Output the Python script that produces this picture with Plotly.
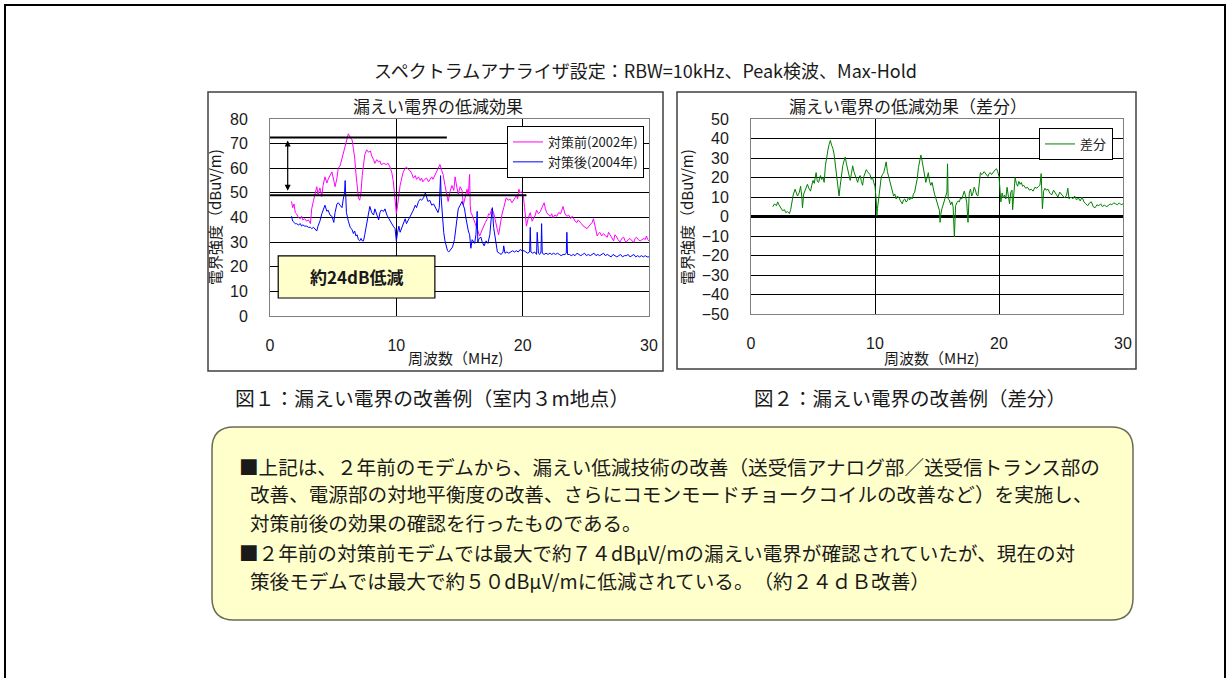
import plotly.graph_objects as go

W, H = 1227, 678

# ---------------- data ----------------
freq_before = [
    1.7, 1.8, 1.9, 2.0, 2.1, 2.25, 2.4, 2.5, 2.6, 2.75,
    2.9, 3.05, 3.2, 3.3, 3.45, 3.6, 3.7, 3.8, 3.95, 4.1,
    4.2, 4.35, 4.5, 4.6, 4.75, 4.9, 5.05, 5.15, 5.3, 5.4,
    5.55, 5.7, 5.8, 5.9, 6.05, 6.2, 6.35, 6.5, 6.6, 6.7,
    6.8, 6.9, 7.0, 7.1, 7.2, 7.3, 7.4, 7.5, 7.65, 7.8,
    7.95, 8.05, 8.2, 8.3, 8.45, 8.6, 8.7, 8.8, 9.0, 9.2,
    9.35, 9.5, 9.65, 9.75, 9.85, 9.95, 10.0, 10.1, 10.2, 10.3,
    10.45, 10.55, 10.7, 10.8, 10.95, 11.1, 11.25, 11.35, 11.5, 11.6,
    11.75, 11.9, 12.0, 12.1, 12.25, 12.4, 12.55, 12.7, 12.8, 12.9,
    13.05, 13.2, 13.3, 13.45, 13.6, 13.7, 13.85, 14.0, 14.1, 14.25,
    14.4, 14.55, 14.65, 14.8, 14.9, 15.05, 15.2, 15.3, 15.45, 15.6,
    15.7, 15.8, 15.85, 15.9, 16.0, 16.1, 16.25, 16.4, 16.5, 16.6,
    16.75, 16.9, 17.05, 17.2, 17.3, 17.4, 17.55, 17.7, 17.85, 18.0,
    18.1, 18.2, 18.35, 18.5, 18.6, 18.7, 18.85, 19.0, 19.15, 19.3,
    19.4, 19.5, 19.6, 19.7, 19.8, 19.9, 20.05, 20.15, 20.2, 20.3,
    20.45, 20.6, 20.75, 20.85, 21.0, 21.1, 21.25, 21.4, 21.55, 21.7,
    21.8, 21.9, 22.05, 22.2, 22.3, 22.4, 22.55, 22.7, 22.85, 23.0,
    23.1, 23.2, 23.35, 23.5, 23.65, 23.8, 23.9, 24.0, 24.15, 24.3,
    24.4, 24.5, 24.65, 24.8, 24.95, 25.1, 25.25, 25.4, 25.5, 25.6,
    25.75, 25.9, 26.0, 26.1, 26.25, 26.4, 26.55, 26.7, 26.8, 26.9,
    27.05, 27.2, 27.3, 27.4, 27.55, 27.7, 27.85, 28.0, 28.1, 28.2,
    28.35, 28.5, 28.65, 28.8, 28.9, 29.0, 29.15, 29.3, 29.45, 29.6,
    29.7, 29.8, 29.9, 30.0,
]
level_before = [
    46.5, 44.0, 45.5, 42.0, 41.5, 40.0, 39.5, 40.5, 39.0, 39.5,
    38.5, 39.0, 37.5, 43.5, 47.0, 50.0, 52.5, 49.5, 52.0, 48.5,
    53.0, 56.5, 54.0, 55.5, 57.0, 58.5, 55.0, 52.5, 56.0, 60.0,
    61.0, 64.0, 66.0, 68.0, 71.0, 74.0, 72.5, 71.5, 68.0, 64.5,
    58.0, 52.5, 48.0, 47.0, 50.0, 57.0, 63.0, 65.5, 67.5, 66.5,
    67.0, 65.0, 63.5, 62.0, 63.5, 62.5, 63.0, 61.5, 62.0, 61.5,
    62.0, 60.5, 58.0, 55.0, 50.0, 43.0, 41.5, 45.0, 49.0, 53.0,
    56.5, 58.5, 60.0, 60.5, 59.5, 59.0, 57.5, 56.0, 57.0, 55.5,
    56.5, 55.0, 56.0, 54.5, 55.5, 56.0, 54.5, 55.5, 56.5, 55.5,
    57.0, 58.5, 60.0, 61.5, 59.0, 57.5, 53.0, 49.0, 46.5, 50.5,
    53.0, 51.0, 56.5, 52.0, 49.5, 52.5, 51.0, 45.0, 48.5, 51.5,
    49.0, 57.5, 45.0, 42.0, 41.0, 39.5, 37.5, 35.5, 34.0, 32.5,
    34.5, 36.5, 38.0, 39.5, 41.5, 41.0, 43.5, 42.0, 38.0, 35.0,
    33.0, 36.5, 41.0, 44.0, 46.5, 48.0, 47.0, 47.5, 46.0, 47.0,
    48.0, 49.0, 47.5, 51.5, 50.0, 50.5, 49.0, 44.0, 40.5, 36.5,
    40.0, 42.0, 38.5, 39.5, 41.0, 43.0, 41.5, 42.5, 44.0, 46.0,
    43.5, 42.0, 41.0, 40.5, 41.5, 40.0, 41.0, 40.5, 42.0, 41.5,
    43.0, 44.5, 41.5, 40.5, 41.0, 39.5, 40.5, 40.0, 38.5, 38.0,
    39.0, 38.5, 37.5, 36.5, 36.0, 35.5, 36.5, 37.5, 38.0, 39.5,
    36.0, 32.5, 33.5, 34.0, 32.5, 33.5, 32.5, 32.0, 34.0, 33.0,
    31.5, 30.5, 33.0, 32.5, 31.0, 30.0, 31.5, 32.0, 30.5, 30.0,
    31.0, 31.5, 30.5, 30.0, 31.5, 32.0, 31.0, 30.5, 31.0, 31.5,
    31.0, 32.5, 31.0, 30.5,
]

freq_after = [
    1.7, 1.8, 1.9, 2.0, 2.1, 2.25, 2.4, 2.5, 2.6, 2.75,
    2.9, 3.05, 3.2, 3.3, 3.45, 3.6, 3.7, 3.8, 3.95, 4.1,
    4.2, 4.35, 4.5, 4.6, 4.75, 4.9, 5.05, 5.15, 5.3, 5.4,
    5.55, 5.7, 5.8, 5.9, 5.95, 6.05, 6.2, 6.35, 6.5, 6.6,
    6.7, 6.8, 6.9, 7.0, 7.1, 7.2, 7.3, 7.4, 7.5, 7.65,
    7.8, 7.9, 8.05, 8.2, 8.3, 8.45, 8.6, 8.7, 8.8, 9.0,
    9.1, 9.25, 9.4, 9.5, 9.6, 9.75, 9.9, 10.0, 10.1, 10.2,
    10.3, 10.4, 10.55, 10.7, 10.8, 10.95, 11.1, 11.2, 11.35, 11.5,
    11.6, 11.75, 11.9, 12.0, 12.15, 12.3, 12.4, 12.5, 12.65, 12.8,
    12.95, 13.1, 13.2, 13.3, 13.4, 13.5, 13.55, 13.65, 13.75, 13.85,
    13.95, 14.05, 14.15, 14.3, 14.45, 14.6, 14.75, 14.9, 15.05, 15.2,
    15.3, 15.4, 15.5, 15.6, 15.7, 15.8, 15.9, 16.0, 16.1, 16.2,
    16.3, 16.4, 16.45, 16.55, 16.7, 16.8, 16.95, 17.1, 17.25, 17.4,
    17.5, 17.6, 17.7, 17.8, 17.9, 18.0, 18.15, 18.3, 18.45, 18.5,
    18.6, 18.75, 18.9, 19.05, 19.2, 19.35, 19.5, 19.65, 19.8, 19.95,
    20.1, 20.25, 20.4, 20.55, 20.6, 20.65, 20.8, 20.95, 21.1, 21.15,
    21.25, 21.35, 21.45, 21.5, 21.55, 21.7, 21.85, 22.0, 22.15, 22.3,
    22.45, 22.6, 22.75, 22.9, 23.05, 23.2, 23.35, 23.45, 23.5, 23.55,
    23.7, 23.85, 24.0, 24.15, 24.3, 24.45, 24.6, 24.75, 24.9, 25.05,
    25.2, 25.35, 25.5, 25.65, 25.8, 25.95, 26.1, 26.25, 26.4, 26.55,
    26.7, 26.85, 27.0, 27.15, 27.3, 27.45, 27.6, 27.75, 27.9, 28.05,
    28.2, 28.35, 28.5, 28.65, 28.8, 28.95, 29.1, 29.25, 29.4, 29.55,
    29.7, 29.85, 30.0,
]
level_after = [
    40.5, 38.5, 38.0, 37.5, 37.5, 37.0, 37.5, 36.5, 37.0, 36.5,
    36.5, 36.0, 36.0, 35.5, 36.0, 35.0, 34.5, 36.5, 38.5, 41.5,
    43.0, 45.0, 42.5, 43.0, 41.0, 40.5, 38.0, 42.0, 45.5, 46.0,
    45.0, 44.0, 47.5, 50.0, 55.0, 42.0, 38.5, 36.0, 35.0, 33.5,
    34.5, 32.5, 33.0, 31.0, 30.5, 31.5, 30.5, 30.5, 33.0, 37.0,
    42.0, 44.5, 42.0, 41.0, 43.5, 41.0, 39.0, 42.0, 43.0, 42.5,
    43.5, 41.0, 39.5, 38.5, 38.0, 36.5, 35.5, 30.5, 34.0, 36.5,
    34.0, 35.5, 37.5, 39.5, 37.5, 39.0, 40.0, 41.5, 43.0, 45.0,
    44.0, 46.5, 47.5, 47.0, 48.0, 50.0, 48.5, 46.5, 47.0, 45.0,
    45.5, 44.0, 42.5, 42.0, 44.0, 57.0, 48.0, 38.5, 34.0, 30.5,
    28.0, 26.5, 26.0, 27.0, 28.0, 31.0, 37.0, 43.5, 45.0, 46.5,
    45.0, 43.5, 40.0, 36.5, 34.5, 33.0, 27.5, 31.0, 30.0, 29.5,
    33.0, 42.5, 30.0, 31.5, 32.0, 30.0, 28.5, 30.5, 29.5, 33.0,
    39.0, 44.0, 36.0, 32.5, 28.0, 26.0, 25.5, 25.0, 26.0, 28.5,
    25.5, 26.0, 25.5, 26.0, 26.5, 26.0, 26.5, 26.0, 27.0, 26.5,
    26.5, 26.0, 25.5, 26.0, 36.0, 26.0, 25.5, 26.0, 25.0, 34.0,
    25.5, 25.0, 26.0, 37.5, 25.5, 25.0, 25.5, 25.0, 25.5, 25.0,
    25.5, 25.0, 25.5, 25.0, 24.5, 25.0, 25.0, 25.5, 34.0, 25.0,
    25.0, 24.5, 25.0, 24.5, 25.5, 25.0, 24.5, 25.0, 25.5, 24.5,
    25.0, 24.5, 25.0, 25.5, 24.5, 25.0, 24.5, 25.0, 25.5, 24.5,
    25.0, 24.5, 24.0, 25.0, 24.5, 24.0, 24.5, 25.0, 24.0, 24.5,
    24.5, 25.0, 24.0, 24.5, 25.0, 24.0, 24.5, 24.0, 24.5, 24.0,
    24.5, 24.0, 24.0,
]

freq_diff = [
    1.75, 1.9, 2.05, 2.15, 2.25, 2.35, 2.45, 2.55, 2.7, 2.8,
    2.95, 3.1, 3.2, 3.3, 3.4, 3.55, 3.65, 3.75, 3.9, 4.0,
    4.1, 4.15, 4.25, 4.35, 4.45, 4.55, 4.7, 4.8, 4.9, 5.0,
    5.1, 5.25, 5.35, 5.45, 5.6, 5.7, 5.8, 5.9, 6.0, 6.1,
    6.2, 6.3, 6.4, 6.5, 6.6, 6.7, 6.8, 6.9, 7.0, 7.1,
    7.2, 7.3, 7.4, 7.5, 7.6, 7.7, 7.8, 7.9, 8.0, 8.1,
    8.2, 8.3, 8.4, 8.5, 8.6, 8.7, 8.8, 8.9, 9.0, 9.1,
    9.2, 9.3, 9.4, 9.5, 9.6, 9.7, 9.8, 9.9, 10.0, 10.1,
    10.15, 10.2, 10.3, 10.4, 10.5, 10.6, 10.7, 10.8, 10.9, 11.0,
    11.1, 11.2, 11.3, 11.4, 11.5, 11.6, 11.7, 11.8, 11.95, 12.05,
    12.2, 12.3, 12.4, 12.5, 12.6, 12.7, 12.8, 12.9, 13.0, 13.1,
    13.2, 13.3, 13.4, 13.5, 13.6, 13.7, 13.8, 13.9, 14.0, 14.1,
    14.2, 14.3, 14.4, 14.5, 14.6, 14.7, 14.8, 14.9, 15.0, 15.1,
    15.2, 15.25, 15.3, 15.4, 15.5, 15.6, 15.7, 15.8, 15.85, 15.9,
    16.0, 16.1, 16.2, 16.3, 16.4, 16.45, 16.5, 16.6, 16.7, 16.8,
    16.9, 17.0, 17.1, 17.2, 17.3, 17.4, 17.5, 17.6, 17.7, 17.8,
    17.9, 18.0, 18.1, 18.2, 18.3, 18.4, 18.5, 18.6, 18.7, 18.8,
    18.9, 19.0, 19.1, 19.2, 19.3, 19.4, 19.5, 19.6, 19.7, 19.8,
    19.9, 20.0, 20.1, 20.15, 20.25, 20.35, 20.45, 20.55, 20.65, 20.75,
    20.85, 20.95, 21.05, 21.1, 21.2, 21.3, 21.4, 21.5, 21.6, 21.7,
    21.8, 21.9, 22.0, 22.15, 22.3, 22.45, 22.6, 22.75, 22.9, 23.05,
    23.2, 23.3, 23.4, 23.45, 23.5, 23.6, 23.7, 23.8, 23.95, 24.1,
    24.25, 24.4, 24.5, 24.6, 24.75, 24.9, 25.0, 25.15, 25.3, 25.45,
    25.55, 25.65, 25.8, 25.95, 26.1, 26.25, 26.4, 26.55, 26.7, 26.85,
    27.0, 27.15, 27.3, 27.45, 27.6, 27.75, 27.9, 28.05, 28.2, 28.35,
    28.5, 28.65, 28.8, 28.95, 29.1, 29.25, 29.4, 29.55, 29.7, 29.85,
    30.0,
]
level_diff = [
    5.0, 6.5, 5.5, 7.5, 6.0, 5.0, 3.5, 3.0, 3.5, 2.0,
    2.5, 1.5, 3.5, 8.0, 11.0, 14.0, 12.0, 10.5, 12.5, 15.5,
    10.0, 4.5, 11.5, 13.0, 15.0, 16.5, 14.0, 13.0, 16.0, 18.5,
    17.0, 22.5, 18.0, 17.5, 21.0, 19.0, 20.0, 17.5, 26.0, 31.0,
    34.0, 37.0, 39.0, 36.5, 35.0, 32.0, 27.0, 19.0, 14.0, 10.5,
    16.0, 22.5, 26.0, 28.5, 30.5, 27.0, 24.0, 21.0, 18.5, 22.0,
    26.0, 23.0, 21.0, 19.0, 17.5, 20.0, 21.0, 18.0, 16.0, 20.5,
    22.5, 24.0, 23.0, 22.0, 21.5, 19.0, 20.0, 17.5, 15.5, 8.0,
    0.5, 4.0, 10.5, 15.0, 20.0, 21.5, 22.5, 25.0, 28.0, 23.0,
    20.5, 17.0, 14.0, 12.0, 10.5, 11.5, 9.0, 10.5, 9.5, 8.0,
    6.5, 8.5, 9.0, 7.5, 8.0, 10.0, 8.5, 10.0, 9.0, 11.5,
    12.5, 16.0, 19.0, 25.0, 29.5, 31.5, 28.5, 24.5, 20.0, 17.5,
    20.0, 22.5, 18.0, 16.0, 17.5, 14.0, 11.5, 9.5, 7.0, 5.0,
    3.0, -3.0, 1.0, 4.0, 6.0, 8.0, 10.5, 12.5, 27.0, 9.0,
    8.5, 6.0, 7.5, 5.0, -10.5, 1.0, 5.5, 7.0, 8.0, 7.5,
    9.5, 9.0, 11.0, 13.0, 10.5, 7.0, -3.0, 12.0, 14.0, 10.5,
    12.0, 15.0, 13.5, 11.0, 10.5, 17.0, 22.5, 21.5, 22.0, 23.0,
    22.0, 21.0, 20.5, 22.0, 22.5, 21.5, 22.5, 23.5, 24.0, 24.5,
    23.0, 20.5, 14.0, 7.5, 12.0, 9.5, 11.0, 9.0, 15.0, 10.0,
    6.5, 12.5, 13.5, 3.5, 12.0, 20.0, 17.0, 15.5, 18.0, 16.5,
    17.5, 15.5, 16.0, 14.5, 15.0, 13.5, 14.0, 13.0, 15.0, 14.5,
    15.5, 16.0, 22.0, 12.0, 4.0, 13.0, 14.5, 13.5, 14.0, 12.0,
    11.0, 13.5, 12.5, 11.0, 10.0, 12.5, 11.5, 10.5, 9.5, 11.0,
    14.5, 9.0, 10.0, 9.0, 10.5, 8.5, 9.5, 8.0, 10.0, 7.5,
    6.5, 5.5, 7.0, 7.5, 5.0, 4.5, 6.0, 5.5, 6.5, 5.0,
    6.0, 5.0, 5.5, 6.5, 6.0, 7.0, 6.5, 6.0, 7.0, 6.0,
    6.5,
]

x_ticks = [0, 10, 20, 30]
y1_ticks = [0, 10, 20, 30, 40, 50, 60, 70, 80]
y2_ticks = [-50, -40, -30, -20, -10, 0, 10, 20, 30, 40, 50]

# annotation values drawn on chart 1 (dBuV/m and MHz)
ref_levels = [72.5, 49.0]
ref_line_ends = [14.0, 20.3]
arrow_freq = 1.4
arrow_levels = [71.3, 50.3]
box_freqs = [0.65, 13.05]
box_levels = [7.3, 24.4]

FONT = "Noto Sans CJK JP, sans-serif"
NUMFONT = "Liberation Sans, Arial, sans-serif"


def X(p):
    return p / W


def Y(p):
    return 1 - p / H


fig = go.Figure()
fig.add_trace(go.Scatter(x=freq_before, y=level_before, mode="lines",
                         line=dict(color="#FF00FF", width=1),
                         name="対策前(2002年)", xaxis="x", yaxis="y", legend="legend"))
fig.add_trace(go.Scatter(x=freq_after, y=level_after, mode="lines",
                         line=dict(color="#0000FF", width=1),
                         name="対策後(2004年)", xaxis="x", yaxis="y", legend="legend"))
fig.add_trace(go.Scatter(x=freq_diff, y=level_diff, mode="lines",
                         line=dict(color="#008000", width=1),
                         name="差分", xaxis="x2", yaxis="y2", legend="legend2"))

tickfont = dict(family=NUMFONT, size=16, color="#1a1a1a")
common_x = dict(range=[0, 30], tickvals=x_ticks, showgrid=True, gridcolor="black",
                gridwidth=1, showline=True, mirror=True, linecolor="#808080",
                ticks="outside", ticklen=15, tickcolor="rgba(0,0,0,0)",
                tickfont=tickfont, zeroline=False, fixedrange=True, automargin=False)
common_y = dict(showgrid=True, gridcolor="black", gridwidth=1, showline=True,
                mirror=True, linecolor="#808080", ticks="outside", ticklen=18,
                tickcolor="rgba(0,0,0,0)", tickfont=tickfont, fixedrange=True,
                automargin=False)

fig.update_layout(
    width=W, height=H, autosize=False,
    margin=dict(l=0, r=0, t=0, b=0, pad=0, autoexpand=False),
    paper_bgcolor="white", plot_bgcolor="#C0C0C0",
    font=dict(family=FONT, color="#1a1a1a"),
    xaxis=dict(domain=[X(270), X(649)], anchor="y", **common_x),
    yaxis=dict(domain=[Y(316), Y(119)], anchor="x", range=[0, 80],
               tickvals=y1_ticks, zeroline=False, **common_y),
    xaxis2=dict(domain=[X(751), X(1123)], anchor="y2", **common_x),
    yaxis2=dict(domain=[Y(314), Y(119)], anchor="x2", range=[-50, 50],
                tickvals=y2_ticks, zeroline=True, zerolinecolor="black",
                zerolinewidth=3, **common_y),
    legend=dict(x=X(507), y=Y(126), xanchor="left", yanchor="top",
                bgcolor="white", bordercolor="black", borderwidth=1,
                font=dict(family=FONT, size=13, color="#1a1a1a"), itemwidth=30,
                tracegroupgap=0),
    legend2=dict(x=X(1039), y=Y(128), xanchor="left", yanchor="top",
                 bgcolor="white", bordercolor="black", borderwidth=1,
                 font=dict(family=FONT, size=13, color="#1a1a1a"), itemwidth=30),
    showlegend=True,
)

shapes = []
# page border
shapes.append(dict(type="rect", xref="paper", yref="paper", x0=X(5), x1=X(1225),
                   y0=Y(682), y1=Y(5), line=dict(color="black", width=2), layer="below"))
# chart frames
shapes.append(dict(type="rect", xref="paper", yref="paper", x0=X(208), x1=X(663),
                   y0=Y(371), y1=Y(92), line=dict(color="#404040", width=1.5),
                   fillcolor="white", layer="below"))
shapes.append(dict(type="rect", xref="paper", yref="paper", x0=X(677), x1=X(1136),
                   y0=Y(369), y1=Y(92), line=dict(color="#404040", width=1.5),
                   fillcolor="white", layer="below"))
# rounded text box
bx0, bx1, by0, by1, r = 212, 1133, 427, 620, 22
path = (f"M {X(bx0 + r)} {Y(by0)} L {X(bx1 - r)} {Y(by0)} "
        f"Q {X(bx1)} {Y(by0)} {X(bx1)} {Y(by0 + r)} L {X(bx1)} {Y(by1 - r)} "
        f"Q {X(bx1)} {Y(by1)} {X(bx1 - r)} {Y(by1)} L {X(bx0 + r)} {Y(by1)} "
        f"Q {X(bx0)} {Y(by1)} {X(bx0)} {Y(by1 - r)} L {X(bx0)} {Y(by0 + r)} "
        f"Q {X(bx0)} {Y(by0)} {X(bx0 + r)} {Y(by0)} Z")
shapes.append(dict(type="path", xref="paper", yref="paper", path=path,
                   fillcolor="#FFFFCC", line=dict(color="#6b6b55", width=1.5), layer="below"))
# reference level lines on chart 1
for lvl, end in zip(ref_levels, ref_line_ends):
    shapes.append(dict(type="line", xref="x", yref="y", x0=0, x1=end, y0=lvl, y1=lvl,
                       line=dict(color="black", width=2), layer="above"))
# reduction box
shapes.append(dict(type="rect", xref="x", yref="y", x0=box_freqs[0], x1=box_freqs[1],
                   y0=box_levels[0], y1=box_levels[1], fillcolor="#FFFFCC",
                   line=dict(color="black", width=1.2), layer="above"))
fig.update_layout(shapes=shapes)

ann = []


def txt(x, y, s, size, xanchor="center", angle=0, bold=False, xref="paper", yref="paper"):
    ann.append(dict(x=x, y=y, xref=xref, yref=yref, text=(f"<b>{s}</b>" if bold else s),
                    showarrow=False, xanchor=xanchor, yanchor="middle", textangle=angle,
                    font=dict(family=FONT, size=size, color="#1a1a1a")))


# double arrow
ann.append(dict(x=arrow_freq, y=arrow_levels[0], ax=arrow_freq, ay=arrow_levels[1],
                xref="x", yref="y", axref="x", ayref="y", text="", showarrow=True,
                arrowhead=2, startarrowhead=2, arrowside="end+start",
                arrowwidth=1.2, arrowcolor="black", arrowsize=1, startarrowsize=1))
txt((box_freqs[0] + box_freqs[1]) / 2, (box_levels[0] + box_levels[1]) / 2,
    "約24dB低減", 17, bold=True, xref="x", yref="y")

txt(X(645), Y(70), "スペクトラムアナライザ設定：RBW=10kHz、Peak検波、Max-Hold", 18)
txt(X(438), Y(106), "漏えい電界の低減効果", 17)
txt(X(908), Y(106), "漏えい電界の低減効果（差分）", 17)
txt(X(455), Y(357), "周波数（MHz)", 15)
txt(X(932), Y(357), "周波数（MHz)", 15)
txt(X(214), Y(217), "電界強度（dBuV/m)", 15, angle=-90)
txt(X(686), Y(217), "電界強度（dBuV/m)", 15, angle=-90)
txt(X(432), Y(397), "図１：漏えい電界の改善例（室内３m地点）", 19.8)
txt(X(910), Y(397), "図２：漏えい電界の改善例（差分）", 19.5)

lines = [
    (237, 466, "■上記は、２年前のモデムから、漏えい低減技術の改善（送受信アナログ部／送受信トランス部の"),
    (248, 494, "改善、電源部の対地平衡度の改善、さらにコモンモードチョークコイルの改善など）を実施し、"),
    (248, 522, "対策前後の効果の確認を行ったものである。"),
    (237, 552, "■２年前の対策前モデムでは最大で約７４dBμV/mの漏えい電界が確認されていたが、現在の対"),
    (248, 580, "策後モデムでは最大で約５０dBμV/mに低減されている。　（約２４ｄＢ改善）"),
]
for lx, ly, s in lines:
    txt(X(lx), Y(ly), s, 19.6, xanchor="left")

fig.update_layout(annotations=ann)

fig.write_html("out.html", config={"displayModeBar": False, "staticPlot": True},
               post_script="document.body.style.margin='0';document.body.style.overflow='hidden';")
